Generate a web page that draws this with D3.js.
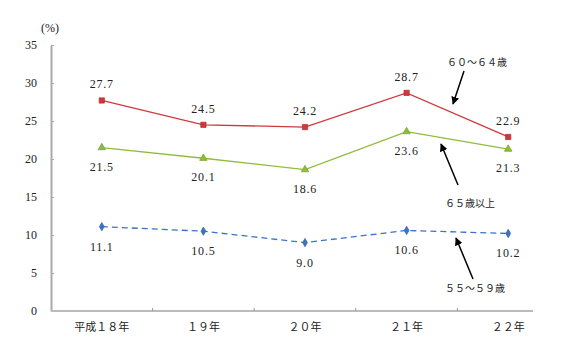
<!DOCTYPE html>
<html><head><meta charset="utf-8">
<script src="https://cdn.jsdelivr.net/npm/d3@7"></script>
<style>body{margin:0;background:#fff}svg{display:block}</style>
</head><body>
<svg id="c" width="576" height="359"></svg>
<script>
const categories = ["平成１８年", "１９年", "２０年", "２１年", "２２年"];
const s6064 = [27.7, 24.5, 24.2, 28.7, 22.9];
const s65 = [21.5, 20.1, 18.6, 23.6, 21.3];
const s5559 = [11.1, 10.5, 9.0, 10.6, 10.2];
const yTicks = [0, 5, 10, 15, 20, 25, 30, 35];

const svg = d3.select("#c");
const numFont = "'Liberation Serif','DejaVu Serif',serif";
const jpFont = "'Noto Sans CJK JP',sans-serif";

const x = d3.scaleBand().domain(categories).range([51, 559]);
const y = d3.scaleLinear().domain([0, 35]).range([311, 45]);
const cx = c => x(c) + x.bandwidth() / 2;

// y axis
const ya = svg.append("g").attr("transform", "translate(51,0)")
  .call(d3.axisLeft(y).tickValues(yTicks).tickSize(0).tickPadding(14));
ya.select(".domain").attr("stroke", "#aaa").attr("stroke-width", 2);
ya.selectAll("text").attr("font-family", numFont).attr("font-size", 12).attr("fill", "#222");
ya.selectAll(".tick").append("line").attr("x1", 0).attr("x2", 3).attr("stroke", "#aaa");

// x axis
svg.append("line").attr("x1", 51).attr("x2", 533).attr("y1", 311).attr("y2", 311)
  .attr("stroke", "#bbb").attr("stroke-width", 2);
categories.slice(1).forEach(c => {
  svg.append("line").attr("x1", x(c)).attr("x2", x(c)).attr("y1", 311).attr("y2", 308)
    .attr("stroke", "#999");
});
svg.append("g").selectAll("text").data(categories).join("text")
  .attr("x", d => cx(d)).attr("y", 331).attr("text-anchor", "middle")
  .attr("font-family", jpFont).attr("font-size", 11).attr("fill", "#222")
  .text(d => d);

svg.append("text").attr("x", 50).attr("y", 32).attr("text-anchor", "middle")
  .attr("font-family", numFont).attr("font-size", 12).attr("fill", "#222").text("(%)");

const line = d3.line().x((d, i) => cx(categories[i])).y(d => y(d));

function series(data, color, dash, shape, size, labelDy) {
  svg.append("path").datum(data).attr("d", line).attr("fill", "none")
    .attr("stroke", color).attr("stroke-width", 1.3)
    .attr("stroke-dasharray", dash);
  svg.append("g").selectAll("path").data(data).join("path")
    .attr("transform", (d, i) => `translate(${cx(categories[i])},${y(d)})`)
    .attr("d", d3.symbol().type(shape).size(size))
    .attr("fill", color).attr("stroke", d3.color(color).darker(0.5)).attr("stroke-width", 0.7);
  svg.append("g").selectAll("text").data(data).join("text")
    .attr("x", (d, i) => cx(categories[i])).attr("y", d => y(d) + labelDy)
    .attr("text-anchor", "middle").attr("font-family", numFont).attr("font-size", 12)
    .attr("letter-spacing", 0.8)
    .attr("fill", "#222").text(d => d.toFixed(1));
}
series(s6064, "#d0393b", null, d3.symbolSquare, 28, -12);
series(s65, "#8fbd3a", null, d3.symbolTriangle, 24, 23);
series(s5559, "#3c72c8", "6,4", d3.symbolDiamond, 20, 24);

// annotations
svg.append("defs").append("marker").attr("id", "ah").attr("viewBox", "0 0 10 10")
  .attr("refX", 9).attr("refY", 5).attr("markerWidth", 8).attr("markerHeight", 8)
  .attr("orient", "auto").attr("markerUnits", "userSpaceOnUse")
  .append("path").attr("d", "M0,0L10,5L0,10z").attr("fill", "#000");
const notes = [
  {t: "６０～６４歳", tx: 477, ty: 66, x1: 464, y1: 71, x2: 453, y2: 104},
  {t: "６５歳以上", tx: 470, ty: 207, x1: 458, y1: 185, x2: 441, y2: 144},
  {t: "５５～５９歳", tx: 475, ty: 292, x1: 473, y1: 279, x2: 456, y2: 238}
];
notes.forEach(n => {
  svg.append("line").attr("x1", n.x1).attr("y1", n.y1).attr("x2", n.x2).attr("y2", n.y2)
    .attr("stroke", "#000").attr("stroke-width", 1.5).attr("marker-end", "url(#ah)");
  svg.append("text").attr("x", n.tx).attr("y", n.ty).attr("text-anchor", "middle")
    .attr("font-family", jpFont).attr("font-size", 10).attr("fill", "#222").text(n.t);
});
</script>
</body></html>
